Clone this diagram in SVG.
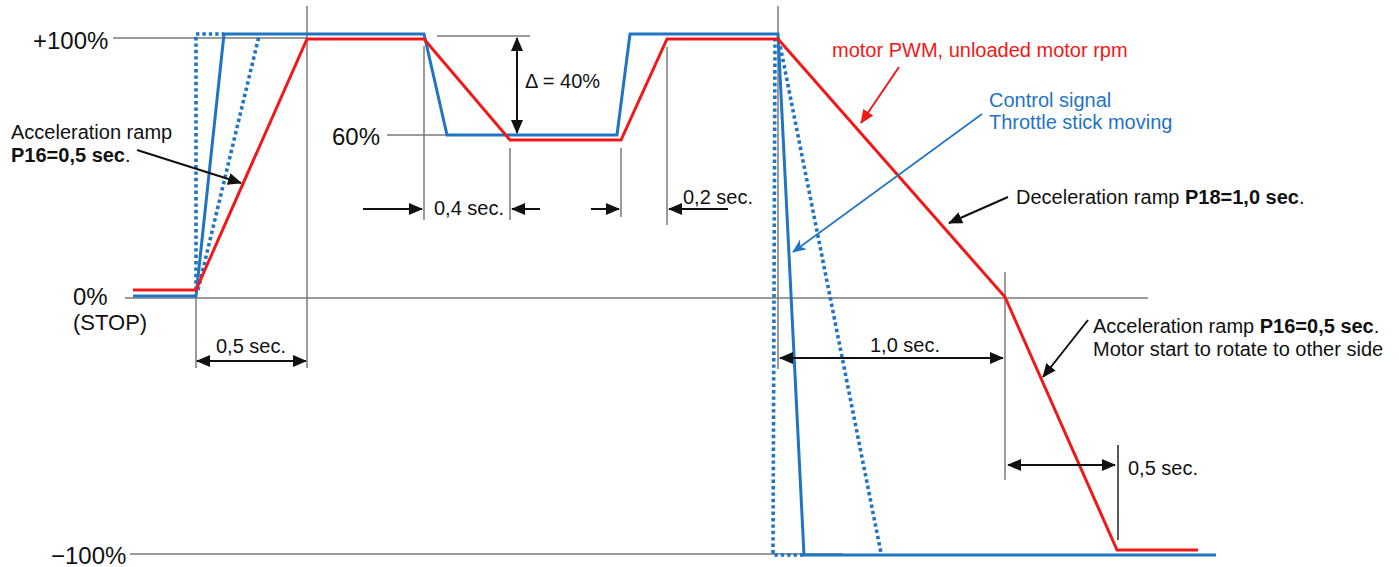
<svg xmlns="http://www.w3.org/2000/svg" width="1399" height="567" viewBox="0 0 1399 567">
<style>
text{font-family:"Liberation Sans",Arial,sans-serif;font-size:20px;fill:#111}
.ax{font-size:24px}
.st{font-size:22px}
.b{font-weight:bold}
.red{fill:#f21818}
.blu{fill:#1f74c4}
.grid{stroke:#7a7a7a;stroke-width:1.5;fill:none}
.dim{stroke:#111;stroke-width:2;fill:none}
.rc{stroke:#f21818;stroke-width:3;fill:none}
.bc{stroke:#1f74c4;stroke-width:3;fill:none}
.bd{stroke:#1f74c4;stroke-width:3.6;fill:none;stroke-dasharray:3.4 3}
.ra{stroke:#f21818;stroke-width:2;fill:none}
.ba{stroke:#1f74c4;stroke-width:1.6;fill:none}
</style>
<defs>
<marker id="ah" markerUnits="userSpaceOnUse" markerWidth="14" markerHeight="12" refX="13" refY="6" orient="auto-start-reverse"><path d="M0,0 L14,6 L0,12 z" fill="#111"/></marker>
<marker id="ahr" markerUnits="userSpaceOnUse" markerWidth="14" markerHeight="12" refX="13" refY="6" orient="auto"><path d="M0,0 L14,6 L0,12 z" fill="#f21818"/></marker>
<marker id="ahb" markerUnits="userSpaceOnUse" markerWidth="14" markerHeight="12" refX="13" refY="6" orient="auto"><path d="M0,0 L14,6 L0,12 L4,6 z" fill="#1f74c4"/></marker>
</defs>

<g id="grid">
<line class="grid" x1="113" y1="38" x2="307" y2="38"/>
<line class="grid" x1="387" y1="135" x2="513" y2="135"/>
<line class="grid" x1="437" y1="36" x2="530" y2="36"/>
<line class="grid" x1="125" y1="298" x2="1148" y2="298"/>
<line class="grid" x1="130" y1="554" x2="843" y2="554"/>
<line class="grid" x1="196" y1="297" x2="196" y2="368"/>
<line class="grid" x1="307" y1="6" x2="307" y2="368"/>
<line class="grid" x1="424" y1="46" x2="424" y2="220"/>
<line class="grid" x1="510" y1="148" x2="510" y2="220"/>
<line class="grid" x1="621" y1="148" x2="621" y2="217"/>
<line class="grid" x1="667" y1="47" x2="667" y2="225"/>
<line class="grid" x1="778" y1="6" x2="778" y2="369"/>
<line class="grid" x1="1005" y1="272" x2="1005" y2="480"/>
<line class="grid" x1="1118" y1="445" x2="1118" y2="540" style="stroke:#222"/>
</g>

<g id="axis-labels">
<text class="ax" x="33" y="49">+100%</text>
<text class="ax" x="332" y="145">60%</text>
<text class="ax" x="73" y="305">0%</text>
<text class="st" x="73" y="330">(STOP)</text>
<text class="ax" x="51" y="564">−100%</text>
</g>

<g id="curves">
<path class="bd" d="M196,290 L196,34 L224,34"/>
<path class="bd" d="M198,290 L259,36"/>
<path class="bd" d="M775,38 L773,555 L804,555"/>
<path class="bd" d="M779,40 L881,553"/>
<path class="bc" d="M133,296 L196,296 L224,34 L424,34 L447,135 L617,135 L630,34 L778,34 L804,555 L1216,555"/>
<path class="rc" d="M133,290 L196,290 L307,39 L424,39 L510,140 L621,140 L667,39 L778,39 L1005,297 L1117,550 L1198,550"/>
</g>

<g id="connectors">
<line class="dim" x1="517" y1="38" x2="517" y2="133" marker-start="url(#ah)" marker-end="url(#ah)"/>
<line class="dim" x1="197" y1="361" x2="306" y2="361" marker-start="url(#ah)" marker-end="url(#ah)"/>
<line class="dim" x1="363" y1="209" x2="422" y2="209" marker-end="url(#ah)"/>
<line class="dim" x1="540" y1="209" x2="512" y2="209" marker-end="url(#ah)"/>
<line class="dim" x1="591" y1="209" x2="619" y2="209" marker-end="url(#ah)"/>
<line class="dim" x1="728" y1="209" x2="669" y2="209" marker-end="url(#ah)"/>
<line class="dim" x1="780" y1="358" x2="1003" y2="358" marker-start="url(#ah)" marker-end="url(#ah)"/>
<line class="dim" x1="1008" y1="465" x2="1115" y2="465" marker-start="url(#ah)" marker-end="url(#ah)"/>
<line class="dim" x1="137" y1="150" x2="241" y2="183" marker-end="url(#ah)"/>
<line class="dim" x1="1008" y1="197" x2="949" y2="223" marker-end="url(#ah)"/>
<line class="dim" x1="1088" y1="320" x2="1043" y2="377" marker-end="url(#ah)"/>
<line class="ra" x1="899" y1="67" x2="861" y2="123" marker-end="url(#ahr)"/>
<line class="ba" x1="982" y1="114" x2="793" y2="252" marker-end="url(#ahb)"/>
</g>

<g id="labels">
<text x="525" y="88">Δ = 40%</text>
<text x="216" y="353">0,5 sec.</text>
<text x="434" y="215">0,4 sec.</text>
<text x="683" y="204">0,2 sec.</text>
<text x="870" y="352">1,0 sec.</text>
<text x="1128" y="475">0,5 sec.</text>
<text x="11" y="139">Acceleration ramp</text>
<text x="11" y="162"><tspan class="b">P16=0,5 sec</tspan>.</text>
<text class="red" x="832" y="57">motor PWM, unloaded motor rpm</text>
<text class="blu" x="989" y="107">Control signal</text>
<text class="blu" x="989" y="129">Throttle stick moving</text>
<text x="1016" y="204">Deceleration ramp <tspan class="b">P18=1,0 sec</tspan>.</text>
<text x="1093" y="333">Acceleration ramp <tspan class="b">P16=0,5 sec</tspan>.</text>
<text x="1093" y="356">Motor start to rotate to other side</text>
</g>
</svg>
